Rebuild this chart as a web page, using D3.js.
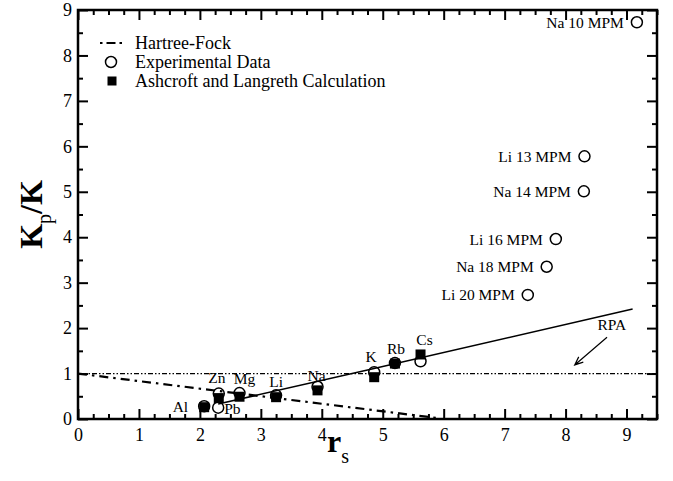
<!DOCTYPE html>
<html>
<head>
<meta charset="utf-8">
<script src="https://cdn.jsdelivr.net/npm/d3@7"></script>
<style>
  html, body { margin: 0; padding: 0; background: #fff; }
  svg { display: block; font-family: "Liberation Serif", "Times New Roman", serif; }
</style>
</head>
<body>
<svg id="chart" width="673" height="481"></svg>
<script>
// ---------- data ----------
const xTicks = [0, 1, 2, 3, 4, 5, 6, 7, 8, 9];
const yTicks = [0, 1, 2, 3, 4, 5, 6, 7, 8, 9];

const metals   = ["Al", "Zn", "Pb", "Mg", "Li", "Na", "K", "Rb", "Cs"];
const rsMetal  = [2.07, 2.31, 2.30, 2.65, 3.25, 3.93, 4.86, 5.20, 5.62];
const expMetal = [0.28, 0.56, 0.25, 0.57, 0.52, 0.71, 1.03, 1.23, 1.27];
const alMetal  = [0.26, 0.46, null, 0.49, 0.48, 0.63, 0.92, 1.22, 1.42];

const mpmLabels = ["Na 10 MPM", "Li 13 MPM", "Na 14 MPM", "Li 16 MPM", "Na 18 MPM", "Li 20 MPM"];
const mpmRs     = [9.17, 8.31, 8.30, 7.84, 7.69, 7.38];
const mpmK      = [8.73, 5.78, 5.01, 3.96, 3.35, 2.73];

const hfRs  = [0, 5.9];
const hfK   = [1, 0.02];
const rpaRs = [2.3, 4.75, 9.1];
const rpaK  = [0.33, 1.08, 2.42];
const refRs = [0, 9.5];
const refK  = [1, 1];

const legendLabels = ["Hartree-Fock", "Experimental Data", "Ashcroft and Langreth Calculation"];

// ---------- layout ----------
const W = 673, H = 481;
const M = { left: 78, right: 16, top: 10, bottom: 62 };
const svg = d3.select("#chart");
svg.append("rect").attr("width", W).attr("height", H).attr("fill", "#fff");

const x = d3.scaleLinear().domain([0, 9.5]).range([M.left, W - M.right]);
const y = d3.scaleLinear().domain([0, 9]).range([H - M.bottom, M.top]);

const minorX = d3.range(0, 9.5001, 0.25).filter(v => Math.abs(v - Math.round(v)) > 1e-6);
const minorY = d3.range(0.5, 9, 1);

function styleAxis(g) {
  g.select(".domain").remove();
  g.selectAll("line").attr("stroke", "#000").attr("stroke-width", 2);
  g.selectAll("text").attr("fill", "#000").attr("font-size", 18)
   .attr("font-family", '"Liberation Serif", "Times New Roman", serif');
}

const yb = y(0), yt = y(9), xl = x(0), xr = x(9.5);

// bottom
svg.append("g").attr("transform", `translate(0,${yb})`)
  .call(d3.axisBottom(x).tickValues(xTicks).tickSize(-10).tickPadding(9).tickFormat(d3.format("d")))
  .call(styleAxis);
svg.append("g").attr("transform", `translate(0,${yb})`)
  .call(d3.axisBottom(x).tickValues(minorX).tickSize(-5).tickFormat(""))
  .call(styleAxis);
// top
svg.append("g").attr("transform", `translate(0,${yt})`)
  .call(d3.axisTop(x).tickValues(xTicks).tickSize(-10).tickFormat(""))
  .call(styleAxis);
svg.append("g").attr("transform", `translate(0,${yt})`)
  .call(d3.axisTop(x).tickValues(minorX).tickSize(-5).tickFormat(""))
  .call(styleAxis);
// left
svg.append("g").attr("transform", `translate(${xl},0)`)
  .call(d3.axisLeft(y).tickValues(yTicks).tickSize(-10).tickPadding(6).tickFormat(d3.format("d")))
  .call(styleAxis);
svg.append("g").attr("transform", `translate(${xl},0)`)
  .call(d3.axisLeft(y).tickValues(minorY).tickSize(-5).tickFormat(""))
  .call(styleAxis);
// right
svg.append("g").attr("transform", `translate(${xr},0)`)
  .call(d3.axisRight(y).tickValues(yTicks).tickSize(-10).tickFormat(""))
  .call(styleAxis);
svg.append("g").attr("transform", `translate(${xr},0)`)
  .call(d3.axisRight(y).tickValues(minorY).tickSize(-5).tickFormat(""))
  .call(styleAxis);

// frame
svg.append("rect")
  .attr("x", xl).attr("y", yt).attr("width", xr - xl).attr("height", yb - yt)
  .attr("fill", "none").attr("stroke", "#000").attr("stroke-width", 2.5);

// ---------- lines ----------
const line = d3.line().x(d => x(d[0])).y(d => y(d[1]));
svg.append("path").datum(d3.zip(refRs, refK)).attr("d", line)
  .attr("fill", "none").attr("stroke", "#000").attr("stroke-width", 1.3)
  .attr("stroke-dasharray", "5,2,1.5,2,1.5,2");
svg.append("path").datum(d3.zip(hfRs, hfK)).attr("d", line)
  .attr("fill", "none").attr("stroke", "#000").attr("stroke-width", 2.2)
  .attr("stroke-dasharray", "9,5,2.5,5");
svg.append("path").datum(d3.zip(rpaRs, rpaK)).attr("d", line)
  .attr("fill", "none").attr("stroke", "#000").attr("stroke-width", 1.5);

// ---------- markers ----------
const R = 5.5, S = 10;
const expPts = d3.zip(rsMetal, expMetal).concat(d3.zip(mpmRs, mpmK));
svg.append("g").selectAll("circle").data(expPts).join("circle")
  .attr("cx", d => x(d[0])).attr("cy", d => y(d[1])).attr("r", R)
  .attr("fill", "none").attr("stroke", "#000").attr("stroke-width", 1.5);
const alPts = d3.zip(rsMetal, alMetal).filter(d => d[1] != null);
svg.append("g").selectAll("rect").data(alPts).join("rect")
  .attr("x", d => x(d[0]) - S / 2).attr("y", d => y(d[1]) - S / 2)
  .attr("width", S).attr("height", S).attr("fill", "#000");

// ---------- labels ----------
const metalLabelCfg = {
  Al: ["end", -16, 6], Zn: ["middle", -2, -11], Pb: ["start", 6, 6],
  Mg: ["middle", 5, -9], Li: ["middle", 0, -8], Na: ["middle", -1, -6],
  K: ["middle", -3, -10], Rb: ["middle", 1, -9], Cs: ["middle", 4, -16]
};
const labelSize = 15.5;
metals.forEach((m, i) => {
  const c = metalLabelCfg[m];
  svg.append("text").attr("x", x(rsMetal[i]) + c[1]).attr("y", y(expMetal[i]) + c[2])
    .attr("text-anchor", c[0]).attr("font-size", labelSize).text(m);
});
mpmLabels.forEach((t, i) => {
  svg.append("text").attr("x", x(mpmRs[i]) - 13).attr("y", y(mpmK[i]) + 5.5)
    .attr("text-anchor", "end").attr("font-size", labelSize).text(t);
});

// RPA annotation
const rpaLabel = { text: "RPA", at: [8.76, 2.07] };
const rpaArrow = { from: [8.68, 1.80], to: [8.15, 1.19] };
svg.append("text").attr("x", x(rpaLabel.at[0])).attr("y", y(rpaLabel.at[1]) + 5.5)
  .attr("text-anchor", "middle").attr("font-size", labelSize).text(rpaLabel.text);
{
  const x1 = x(rpaArrow.from[0]), y1 = y(rpaArrow.from[1]);
  const x2 = x(rpaArrow.to[0]), y2 = y(rpaArrow.to[1]);
  const ang = Math.atan2(y2 - y1, x2 - x1), L = 9, A = 0.4;
  svg.append("path")
    .attr("d", `M${x1},${y1}L${x2},${y2}M${x2 - L * Math.cos(ang - A)},${y2 - L * Math.sin(ang - A)}L${x2},${y2}L${x2 - L * Math.cos(ang + A)},${y2 - L * Math.sin(ang + A)}`)
    .attr("fill", "none").attr("stroke", "#000").attr("stroke-width", 1.2);
}

// ---------- legend ----------
const lg = svg.append("g");
const lx = 100, ly = 43, lstep = 19;
lg.append("line").attr("x1", lx).attr("x2", lx + 24).attr("y1", ly).attr("y2", ly)
  .attr("stroke", "#000").attr("stroke-width", 2.2).attr("stroke-dasharray", "2.5,4,9,4");
lg.append("circle").attr("cx", lx + 11).attr("cy", ly + lstep).attr("r", R)
  .attr("fill", "none").attr("stroke", "#000").attr("stroke-width", 1.5);
lg.append("rect").attr("x", lx + 12 - 4.5).attr("y", ly + 2 * lstep - 4.5).attr("width", 9).attr("height", 9).attr("fill", "#000");
legendLabels.forEach((t, i) => {
  lg.append("text").attr("x", lx + 35).attr("y", ly + i * lstep + 6)
    .attr("font-size", 18).text(t);
});

// ---------- axis titles ----------
const xt = svg.append("text").attr("x", 338).attr("y", 452)
  .attr("text-anchor", "middle").attr("font-size", 32).attr("font-weight", "bold");
xt.append("tspan").text("r");
xt.append("tspan").attr("font-size", 20).attr("dy", 11).attr("font-weight", "normal").text("s");

const yt2 = svg.append("text").attr("transform", `translate(42,${(yt + yb) / 2}) rotate(-90)`)
  .attr("text-anchor", "middle").attr("font-size", 32).attr("font-weight", "bold");
yt2.append("tspan").text("K");
yt2.append("tspan").attr("font-size", 20).attr("dy", 9).attr("font-weight", "normal").text("p");
yt2.append("tspan").attr("dy", -9).text("/K");
</script>
</body>
</html>
